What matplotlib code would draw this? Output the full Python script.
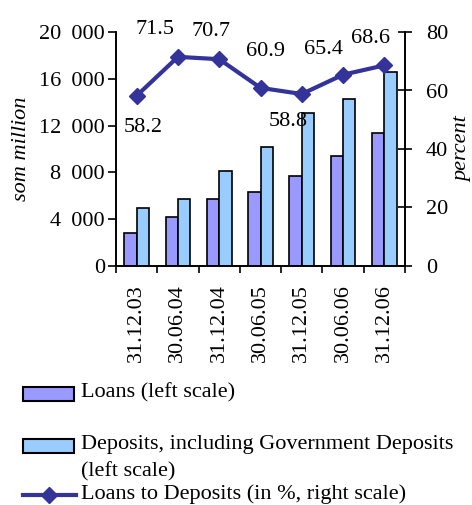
import matplotlib
matplotlib.use("Agg")
import matplotlib.pyplot as plt
from matplotlib.patches import Rectangle
from matplotlib.lines import Line2D
import numpy as np

plt.rcParams['font.family'] = ['Liberation Serif', 'DejaVu Serif']

# data
dates = ['31.12.03', '30.06.04', '31.12.04', '30.06.05', '31.12.05', '30.06.06', '31.12.06']
loans = [2850, 4200, 5750, 6300, 7680, 9390, 11380]
deposits = [4920, 5750, 8140, 10210, 13060, 14310, 16560]
ratio = [58.2, 71.5, 70.7, 60.9, 58.8, 65.4, 68.6]
left_ticks = [0, 4000, 8000, 12000, 16000, 20000]
right_ticks = [0, 20, 40, 60, 80]

# label offsets (pixels) for the ratio labels
label_dx = [7, -23, -8, 5, -14, -20, -14]
label_dy = [-32, 27, 28, 36, -27, 25, 27]

loan_col = '#9999ff'
dep_col = '#99ccff'
line_col = '#333399'
fs = 16

fig = plt.figure(figsize=(4.72, 5.05), dpi=100)
ax = fig.add_axes([116/472, 1-266/505, (405-116)/472, (266-32)/505])
ax2 = ax.twinx()

x = np.arange(len(dates))
w = 0.3
ax.bar(x - w/2, loans, w, color=loan_col, edgecolor='black', linewidth=1.2, zorder=2)
ax.bar(x + w/2, deposits, w, color=dep_col, edgecolor='black', linewidth=1.2, zorder=2)

ax2.plot(x, ratio, color=line_col, linewidth=3, marker='D', markersize=8, zorder=3)
for i, v in enumerate(ratio):
    ax2.annotate(f'{v:.1f}', (x[i], v), xytext=(label_dx[i], label_dy[i]),
                 textcoords='offset pixels', ha='center', va='center', fontsize=fs)

ax.set_xlim(-0.5, len(dates) - 0.5)
ax.set_ylim(0, 20000)
ax2.set_ylim(0, 80)
ax.set_yticks(left_ticks)
ax.set_yticklabels([f'{v:,}'.replace(',', ' \u2009') for v in left_ticks])
ax2.set_yticks(right_ticks)

ax.set_xticks(x)
ax.set_xticklabels(dates, rotation=90, fontsize=fs)
ax.set_xticks(np.arange(-0.5, len(dates)), minor=True)
ax.tick_params(axis='x', which='major', length=0, pad=13)
ax.tick_params(axis='x', which='minor', length=5, width=1.2, direction='out')
ax.tick_params(axis='y', length=6, width=1.2, direction='out', labelsize=fs, pad=2)
ax2.tick_params(axis='y', length=10, width=1.2, direction='inout', labelsize=fs, pad=10)

for a in (ax, ax2):
    a.spines['top'].set_visible(False)
    for s in ('left', 'right', 'bottom'):
        a.spines[s].set_linewidth(1.2)

ax.set_ylabel('som million', fontstyle='italic', fontsize=fs, labelpad=6)
ax2.set_ylabel('percent', fontstyle='italic', fontsize=fs, labelpad=4)

# legend drawn below the chart
def fx(px):
    return px / 472

def fy(py):
    return 1 - py / 505

fig.patches.append(Rectangle((fx(23), fy(401)), fx(51), 14/505, transform=fig.transFigure,
                             facecolor=loan_col, edgecolor='black', linewidth=1.5))
fig.text(fx(81), fy(393), 'Loans (left scale)', fontsize=fs, va='center')
fig.patches.append(Rectangle((fx(23), fy(453)), fx(51), 14/505, transform=fig.transFigure,
                             facecolor=dep_col, edgecolor='black', linewidth=1.5))
fig.text(fx(81), fy(445), 'Deposits, including Government Deposits', fontsize=fs, va='center')
fig.text(fx(81), fy(472), '(left scale)', fontsize=fs, va='center')
fig.lines.append(Line2D([fx(23), fx(76)], [fy(495), fy(495)], transform=fig.transFigure,
                        color=line_col, linewidth=3))
fig.lines.append(Line2D([fx(49)], [fy(495)], transform=fig.transFigure,
                        color=line_col, marker='D', markersize=8))
fig.text(fx(81), fy(494), 'Loans to Deposits (in %, right scale)', fontsize=fs, va='center')

fig.savefig('out.png', dpi=100)
